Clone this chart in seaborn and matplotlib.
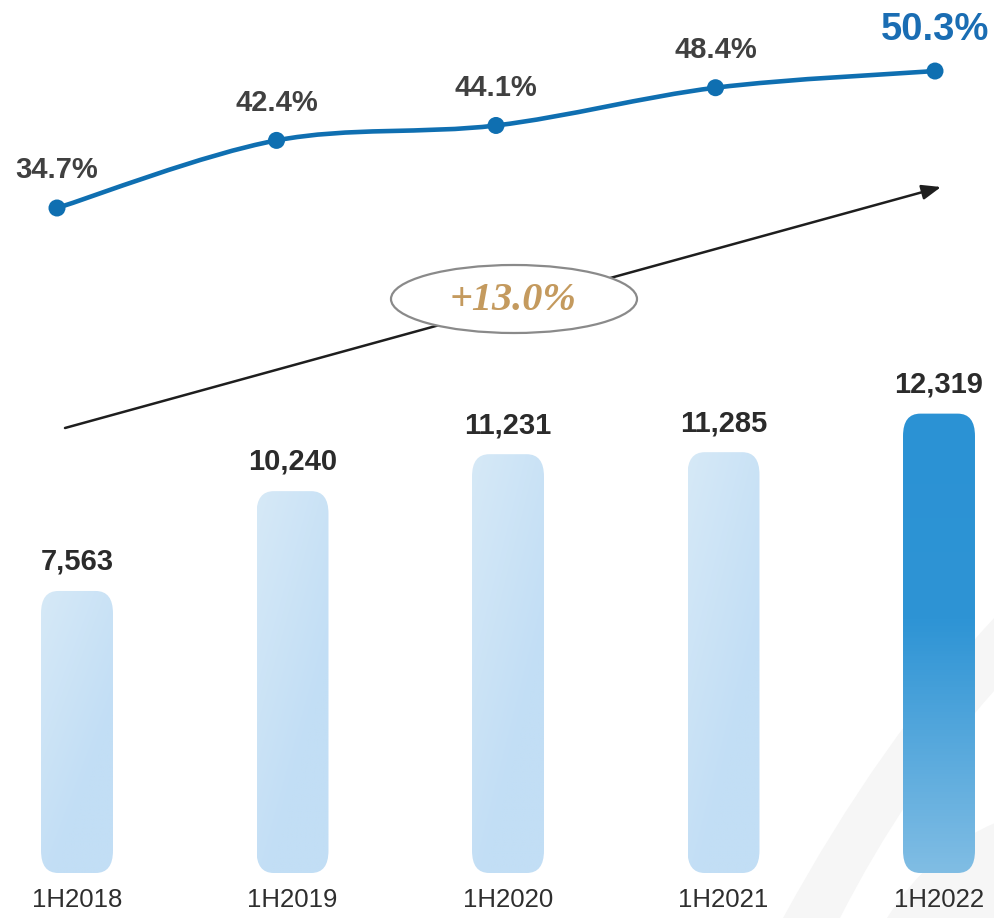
import numpy as np
import pandas as pd
import matplotlib
matplotlib.use("Agg")
import matplotlib.pyplot as plt
import seaborn as sns
from matplotlib.patches import FancyBboxPatch, Ellipse, PathPatch
from matplotlib.path import Path
from matplotlib.colors import LinearSegmentedColormap

# ---- data ----
periods = ["1H2018", "1H2019", "1H2020", "1H2021", "1H2022"]
volumes = [7563, 10240, 11231, 11285, 12319]
shares = [34.7, 42.4, 44.1, 48.4, 50.3]
growth_label = "+13.0%"

sns.set_theme(style="white")
plt.rcParams["font.family"] = ["Liberation Sans", "DejaVu Sans"]

W, H = 995, 918
fig = plt.figure(figsize=(W / 100, H / 100), dpi=100)
fig.patch.set_facecolor("white")

# ---- faint decorative swoosh in the lower right ----
bg = fig.add_axes([0, 0, 1, 1])
bg.set_xlim(0, W)
bg.set_ylim(H, 0)
bg.axis("off")
swoosh_color = "#f6f6f6"
band = Path(
    [(783, 918), (880, 740), (995, 617), (995, 617),
     (995, 690), (995, 690), (905, 790), (840, 918), (783, 918)],
    [Path.MOVETO, Path.CURVE3, Path.CURVE3, Path.LINETO,
     Path.LINETO, Path.LINETO, Path.CURVE3, Path.CURVE3, Path.CLOSEPOLY],
)
bg.add_patch(PathPatch(band, facecolor=swoosh_color, edgecolor="none"))
corner = Path(
    [(887, 918), (930, 850), (995, 823), (995, 918), (887, 918)],
    [Path.MOVETO, Path.CURVE3, Path.CURVE3, Path.LINETO, Path.CLOSEPOLY],
)
bg.add_patch(PathPatch(corner, facecolor=swoosh_color, edgecolor="none"))

# ---- bars ----
bar_bottom_px = 45
ax = fig.add_axes([0, bar_bottom_px / H, 1, (H - bar_bottom_px) / H])
ax.patch.set_alpha(0)
df = pd.DataFrame({"period": periods, "volume": volumes})
sns.barplot(data=df, x="period", y="volume", ax=ax, width=0.334,
            color="#c4e0f5", saturation=1)
xlim = (-77 / 215.5, (W - 77) / 215.5)
ylim = (0, (H - bar_bottom_px) / 0.03729)
ax.set_xlim(*xlim)
ax.set_ylim(*ylim)

light_cmap = LinearSegmentedColormap.from_list("light", ["#d6e9f7", "#c2def5"])
dark_cmap = LinearSegmentedColormap.from_list(
    "dark", [(0.0, "#2b92d4"), (0.45, "#2e94d5"), (1.0, "#80bde4")])

r_x = 0.08
aspect = 600 / r_x
for i, bar in enumerate(list(ax.patches)):
    x0, w, h = bar.get_x(), bar.get_width(), bar.get_height()
    bar.set_visible(False)
    shape = FancyBboxPatch((x0, 0), w, h,
                           boxstyle=f"round,pad=0,rounding_size={r_x}",
                           mutation_aspect=aspect, facecolor="none",
                           edgecolor="none", transform=ax.transData)
    ax.add_patch(shape)
    # row 0 of each gradient is drawn at the top of the bar
    if i == len(volumes) - 1:
        grad = np.linspace(0, 1, 200)[:, None] * np.ones((1, 10))
        cmap = dark_cmap
    else:
        gx, gy = np.meshgrid(np.linspace(0, 1, 40), np.linspace(0, 1, 200))
        grad = np.clip(gx * 0.6 + gy * 0.9, 0, 1)
        cmap = light_cmap
    im = ax.imshow(grad, cmap=cmap, extent=(x0, x0 + w, 0, h), origin="upper",
                   aspect="auto", interpolation="bilinear", zorder=2)
    im.set_clip_path(shape)

ax.set_xlim(*xlim)
ax.set_ylim(*ylim)

for i, v in enumerate(volumes):
    ax.annotate(f"{v:,}", (i, v), xytext=(0, 21), textcoords="offset points",
                ha="center", va="center", fontsize=21, fontweight="bold",
                color="#2b2b2b")

ax.set_xticks(range(len(periods)))
ax.set_xticklabels(periods, fontsize=18.5, color="#2e2e2e")
ax.tick_params(axis="x", length=0, pad=11)
ax.set_yticks([])
ax.set_xlabel("")
ax.set_ylabel("")
sns.despine(ax=ax, left=True, bottom=True)

# ---- share line ----
lx = fig.add_axes([0, 0, 1, 1])
lx.patch.set_alpha(0)
px_per_pt = 8.78
lx_xlim = (-57 / 219.5, (W - 57) / 219.5)
lx_ylim = (34.7 - (H - 208) / px_per_pt, 34.7 + 208 / px_per_pt)
lx.axis("off")

line_color = "#0f6fb1"
xs = np.arange(len(shares), dtype=float)
ys = np.array(shares, dtype=float)
pts = np.column_stack([xs, ys])
ext = np.vstack([pts[0], pts, pts[-1]])
verts = [tuple(pts[0])]
codes = [Path.MOVETO]
for k in range(len(pts) - 1):
    p0, p1, p2, p3 = ext[k], ext[k + 1], ext[k + 2], ext[k + 3]
    c1 = p1 + (p2 - p0) / 6
    c2 = p2 - (p3 - p1) / 6
    verts += [tuple(c1), tuple(c2), tuple(p2)]
    codes += [Path.CURVE4] * 3
lx.add_patch(PathPatch(Path(verts, codes), facecolor="none",
                       edgecolor=line_color, lw=3.3, capstyle="round",
                       transform=lx.transData, zorder=3))
sns.scatterplot(x=xs, y=ys, ax=lx, s=150, color=line_color,
                edgecolor="none", zorder=4, legend=False)
lx.set_xlim(*lx_xlim)
lx.set_ylim(*lx_ylim)

for i, s in enumerate(shares):
    last = i == len(shares) - 1
    lx.annotate(f"{s:.1f}%", (i, s), xytext=(0, 29.5 if last else 27),
                textcoords="offset points", ha="center", va="center",
                fontsize=27.5 if last else 21, fontweight="bold",
                color="#1a6db3" if last else "#404040")

# ---- growth arrow with callout ----
ov = fig.add_axes([0, 0, 1, 1])
ov.patch.set_alpha(0)
ov.set_xlim(0, W)
ov.set_ylim(H, 0)
ov.axis("off")
ov.annotate("", xy=(941, 187), xytext=(65, 428),
            arrowprops=dict(arrowstyle="-|>,head_length=1.15,head_width=0.45",
                            mutation_scale=10, lw=1.8, color="#1e1e1e",
                            shrinkA=0, shrinkB=0))
ov.add_patch(Ellipse((514, 299), 246, 68, facecolor="white",
                     edgecolor="#8a8a8a", lw=1.6, zorder=5))
ov.text(513, 300, growth_label, ha="center", va="center", fontsize=29,
        fontweight="bold", fontstyle="italic",
        family=["Liberation Serif", "DejaVu Serif"], color="#c49a5e", zorder=6)

fig.savefig("out.png", dpi=100, facecolor="white")
